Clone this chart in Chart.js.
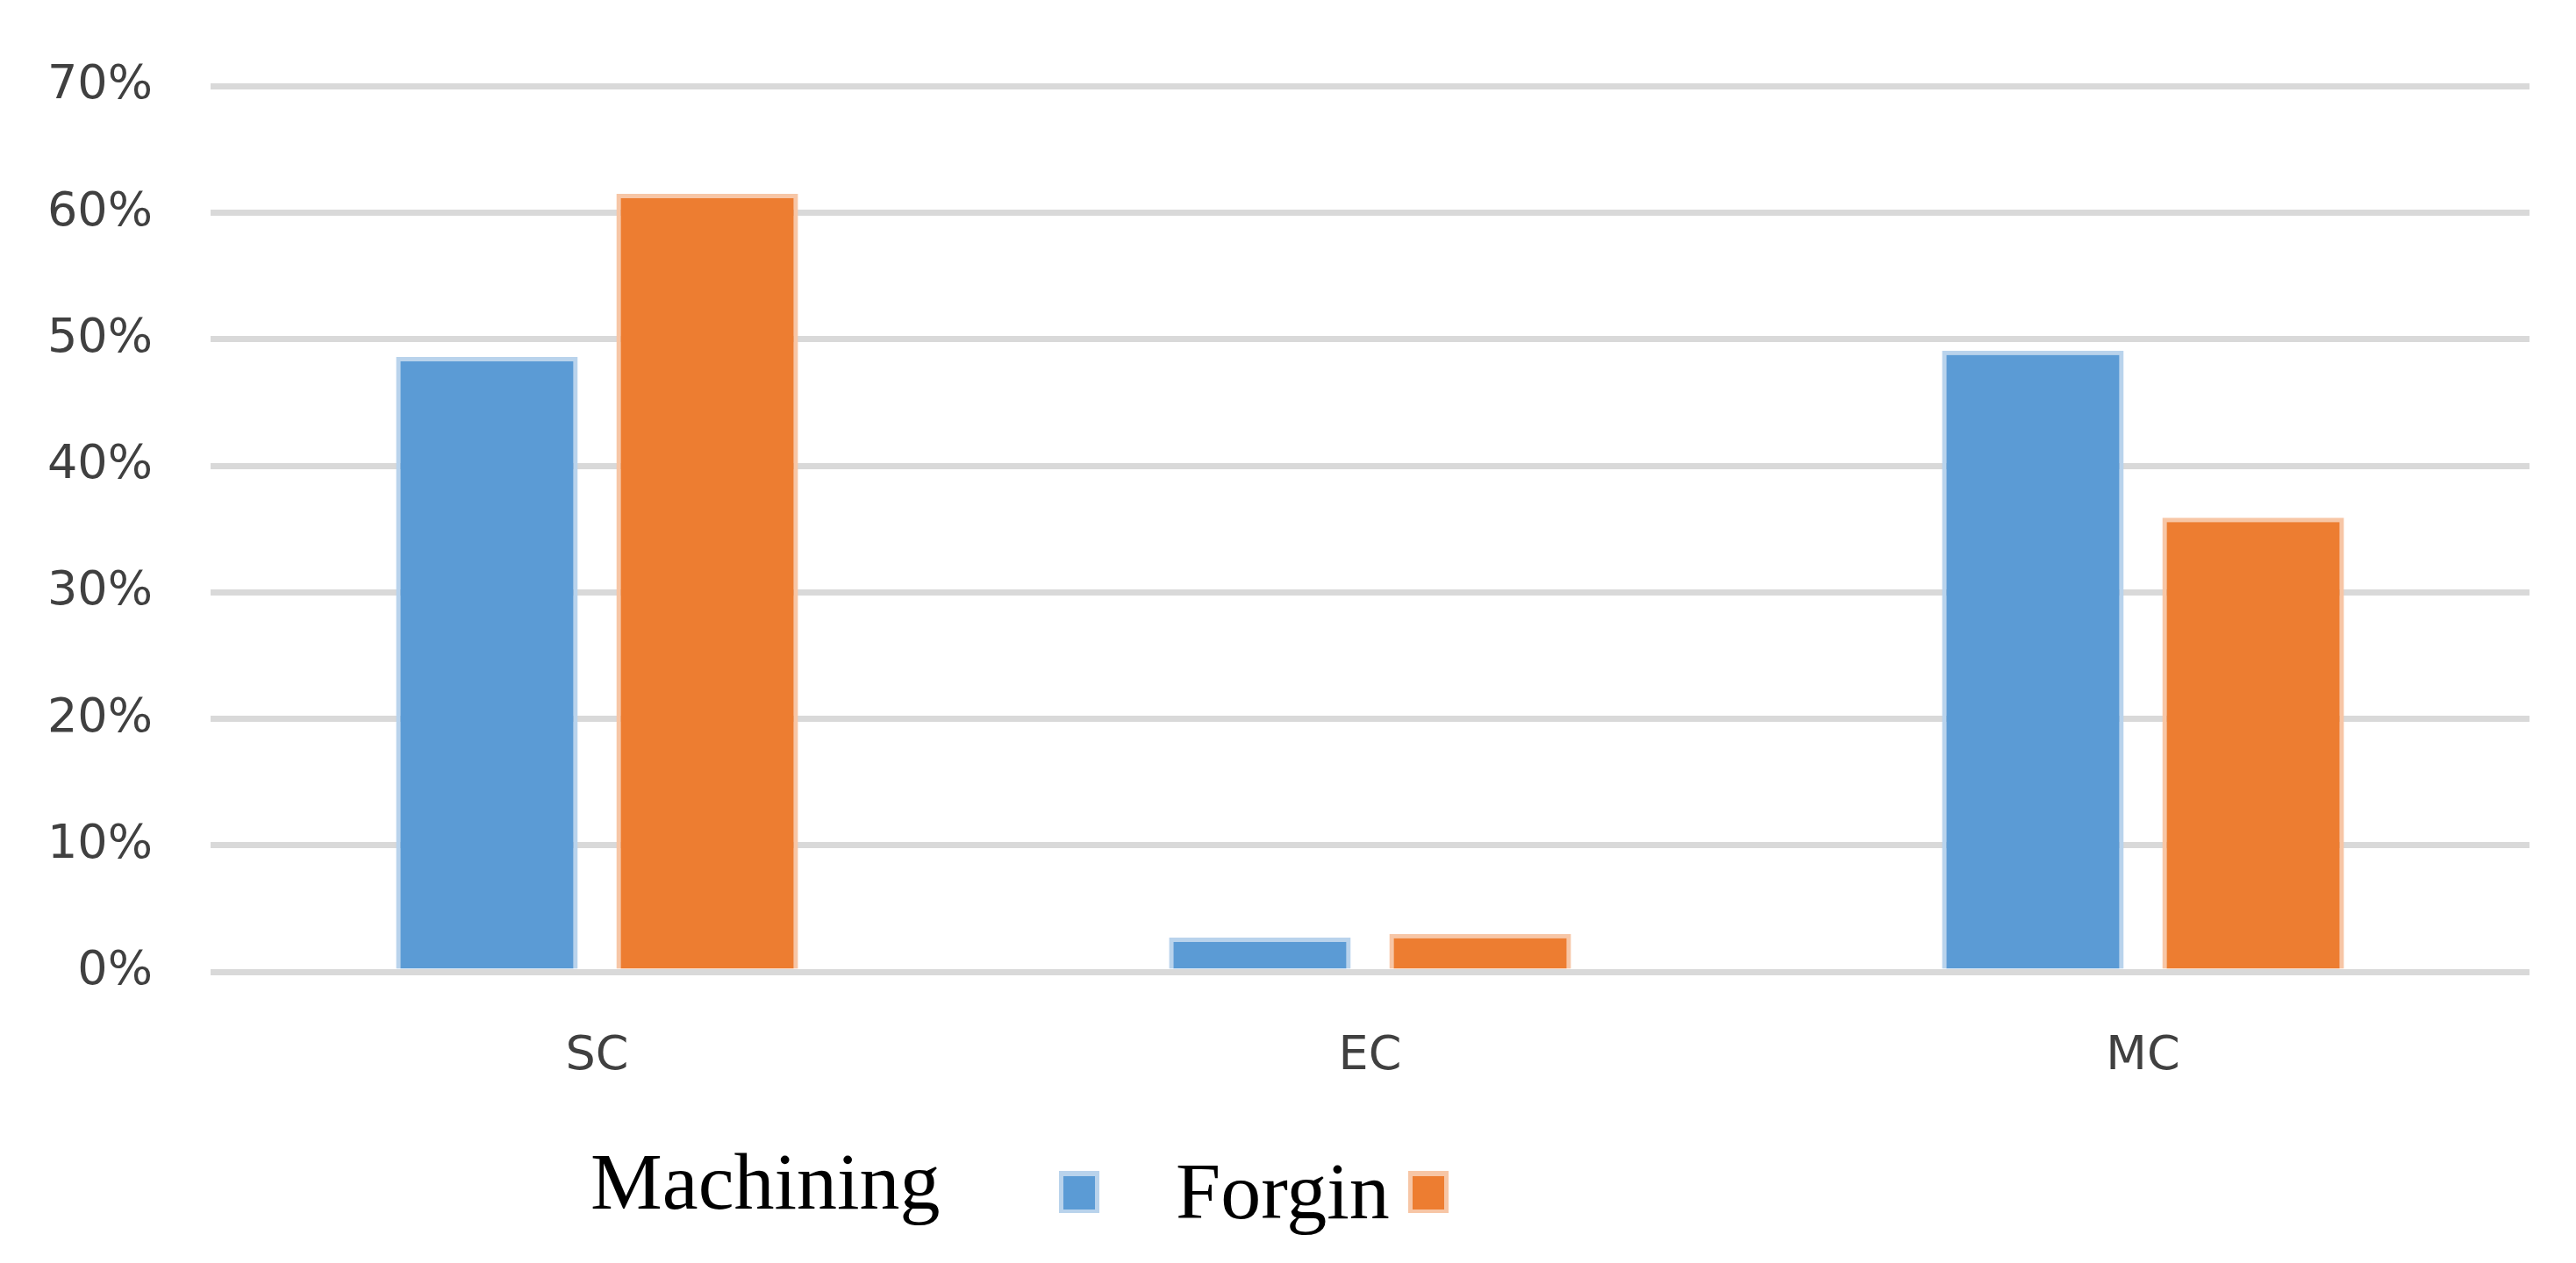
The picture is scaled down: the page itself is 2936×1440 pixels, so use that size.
<!DOCTYPE html>
<html>
<head>
<meta charset="utf-8">
<script src="https://cdn.jsdelivr.net/npm/chart.js@4/dist/chart.umd.min.js"></script>
<style>
  html, body { margin: 0; padding: 0; background: #fff; }
  #wrap { width: 2936px; height: 1440px; position: relative; }
</style>
</head>
<body>
<div id="wrap"><canvas id="chart"></canvas></div>
<script>
const categories = ["SC", "EC", "MC"];
const machining = [48.6, 2.7, 49.1];
const forgin = [61.5, 3.0, 35.9];
const yTicks = [0, 10, 20, 30, 40, 50, 60, 70];

// legend: text first, then the colour box (as in the original figure)
const legendAfter = {
  id: "legendAfter",
  afterDraw(c, args, opts) {
    const ctx = c.ctx;
    ctx.save();
    ctx.font = "92px 'Liberation Serif', 'Times New Roman', serif";
    ctx.fillStyle = "#000";
    ctx.textBaseline = "alphabetic";
    c.data.datasets.forEach((ds, i) => {
      const it = opts.items[i];
      ctx.fillText(ds.label, it.textX, it.baseline);
      ctx.fillStyle = ds.borderColor;
      ctx.fillRect(it.boxX, 1335, 46, 48);
      ctx.fillStyle = ds.backgroundColor;
      ctx.fillRect(it.boxX + 5, 1341, 36, 38);
      ctx.fillStyle = "#000";
    });
    ctx.restore();
  },
};

new Chart(document.getElementById("chart"), {
  type: "bar",
  data: {
    labels: categories,
    datasets: [
      {
        label: "Machining",
        data: machining,
        backgroundColor: "#5b9bd5",
        borderColor: "#b9d3ec",
        borderWidth: { left: 5, right: 5, top: 5, bottom: 0 },
        borderSkipped: false,
      },
      {
        label: "Forgin",
        data: forgin,
        backgroundColor: "#ed7d31",
        borderColor: "#f7c6a6",
        borderWidth: { left: 5, right: 5, top: 5, bottom: 0 },
        borderSkipped: false,
      },
    ],
  },
  options: {
    responsive: true,
    maintainAspectRatio: false,
    animation: false,
    layout: { padding: { top: 88, right: 53, bottom: 212, left: 0 } },
    datasets: { bar: { categoryPercentage: 0.57, barPercentage: 0.825 } },
    plugins: {
      legend: { display: false },
      tooltip: { enabled: false },
      legendAfter: {
        items: [
          { textX: 673, baseline: 1378, boxX: 1207 },
          { textX: 1340, baseline: 1389, boxX: 1605 },
        ],
      },
    },
    scales: {
      x: {
        grid: { display: false },
        border: { display: false },
        ticks: {
          color: "#404040",
          font: { family: "'DejaVu Sans', sans-serif", size: 54 },
          padding: 57,
        },
        afterFit: (s) => { s.height = 120; },
      },
      y: {
        min: yTicks[0],
        max: yTicks[yTicks.length - 1],
        afterBuildTicks: (s) => { s.ticks = yTicks.map((v) => ({ value: v })); },
        grid: { color: "#d9d9d9", lineWidth: 7, drawTicks: false },
        border: { display: false },
        ticks: {
          color: "#404040",
          font: { family: "'DejaVu Sans', sans-serif", size: 54 },
          padding: 66,
          callback: (v) => v + "%",
        },
        afterFit: (s) => { s.width = 240; },
      },
    },
  },
  plugins: [legendAfter],
});
</script>
</body>
</html>
